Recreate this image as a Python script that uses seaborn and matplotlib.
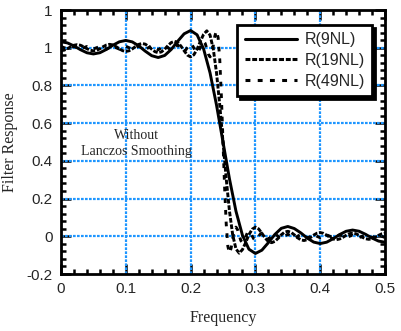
import numpy as np
import pandas as pd
import matplotlib
matplotlib.use("Agg")
import matplotlib.pyplot as plt
import seaborn as sns
from matplotlib.ticker import MultipleLocator, FixedLocator, FixedFormatter

# ---------------- data ----------------
freq9 = [0.00, 0.01, 0.02, 0.03, 0.04, 0.05, 0.06, 0.07, 0.08, 0.09,
         0.10, 0.11, 0.12, 0.13, 0.14, 0.15, 0.16, 0.17, 0.18, 0.19,
         0.20, 0.21, 0.22, 0.23, 0.24, 0.25, 0.26, 0.27, 0.28, 0.29,
         0.30, 0.31, 0.32, 0.33, 0.34, 0.35, 0.36, 0.37, 0.38, 0.39,
         0.40, 0.41, 0.42, 0.43, 0.44, 0.45, 0.46, 0.47, 0.48, 0.49, 0.50]
resp9 = [1.0315, 1.0254, 1.0094, 0.9895, 0.9732, 0.9669, 0.9734, 0.9908, 1.0129, 1.0313,
         1.0386, 1.0309, 1.0096, 0.9818, 0.9577, 0.9480, 0.9589, 0.9904, 1.0338, 1.0737,
         1.0912, 1.0685, 0.9943, 0.8668, 0.6957, 0.5000, 0.3043, 0.1332, 0.0057, -0.0685,
         -0.0912, -0.0737, -0.0338, 0.0096, 0.0423, 0.0520, 0.0411, 0.0182, -0.0096, -0.0309,
         -0.0386, -0.0313, -0.0129, 0.0092, 0.0266, 0.0331, 0.0268, 0.0105, -0.0094, -0.0254, -0.0315]

freq19 = [0.000, 0.005, 0.010, 0.015, 0.020, 0.025, 0.030, 0.035, 0.040, 0.045,
          0.050, 0.055, 0.060, 0.065, 0.070, 0.075, 0.080, 0.085, 0.090, 0.095,
          0.100, 0.105, 0.110, 0.115, 0.120, 0.125, 0.130, 0.135, 0.140, 0.145,
          0.150, 0.155, 0.160, 0.165, 0.170, 0.175, 0.180, 0.185, 0.190, 0.195,
          0.200, 0.205, 0.210, 0.215, 0.220, 0.225, 0.230, 0.235, 0.240, 0.245,
          0.250, 0.255, 0.260, 0.265, 0.270, 0.275, 0.280, 0.285, 0.290, 0.295,
          0.300, 0.305, 0.310, 0.315, 0.320, 0.325, 0.330, 0.335, 0.340, 0.345,
          0.350, 0.355, 0.360, 0.365, 0.370, 0.375, 0.380, 0.385, 0.390, 0.395,
          0.400, 0.405, 0.410, 0.415, 0.420, 0.425, 0.430, 0.435, 0.440, 0.445,
          0.450, 0.455, 0.460, 0.465, 0.470, 0.475, 0.480, 0.485, 0.490, 0.495, 0.500]
resp19 = [0.9841, 0.9871, 0.9951, 1.0049, 1.0130, 1.0161, 1.0131, 1.0050, 0.9949, 0.9866,
          0.9833, 0.9863, 0.9947, 1.0054, 1.0142, 1.0179, 1.0147, 1.0057, 0.9942, 0.9844,
          0.9803, 0.9837, 0.9936, 1.0066, 1.0177, 1.0225, 1.0188, 1.0074, 0.9923, 0.9790,
          0.9735, 0.9780, 0.9920, 1.0110, 1.0270, 1.0340, 1.0280, 1.0090, 0.9840, 0.9610,
          0.9514, 0.9625, 0.9918, 1.0332, 1.0707, 1.0895, 1.0669, 0.9935, 0.8667, 0.6956,
          0.5000, 0.3044, 0.1333, 0.0065, -0.0669, -0.0895, -0.0707, -0.0332, 0.0082, 0.0375,
          0.0486, 0.0390, 0.0160, -0.0090, -0.0280, -0.0340, -0.0270, -0.0110, 0.0080, 0.0220,
          0.0265, 0.0210, 0.0077, -0.0074, -0.0188, -0.0225, -0.0177, -0.0066, 0.0064, 0.0163,
          0.0197, 0.0156, 0.0058, -0.0057, -0.0142, -0.0179, -0.0142, -0.0054, 0.0053, 0.0137,
          0.0167, 0.0134, 0.0050, -0.0050, -0.0131, -0.0161, -0.0130, -0.0049, 0.0049, 0.0129, 0.0159]

freq49 = [0.000, 0.005, 0.010, 0.015, 0.020, 0.025, 0.030, 0.035, 0.040, 0.045,
          0.050, 0.055, 0.060, 0.065, 0.070, 0.075, 0.080, 0.085, 0.090, 0.095,
          0.100, 0.105, 0.110, 0.115, 0.120, 0.125, 0.130, 0.135, 0.140, 0.145,
          0.150, 0.155, 0.160, 0.165, 0.170, 0.175, 0.180, 0.185, 0.190,
          0.1925, 0.1950, 0.1975, 0.2000, 0.2025, 0.2050, 0.2075, 0.2100, 0.2125, 0.2150,
          0.2175, 0.2200, 0.2225, 0.2250, 0.2275, 0.2300, 0.2325, 0.2350, 0.2375, 0.2400,
          0.2425, 0.2450, 0.2475, 0.2500, 0.2525, 0.2550, 0.2575, 0.2600, 0.2625, 0.2650,
          0.2675, 0.2700, 0.2725, 0.2750, 0.2775, 0.2800, 0.2825, 0.2850, 0.2875, 0.2900,
          0.2925, 0.2950, 0.2975, 0.3000, 0.3025, 0.3050, 0.3075, 0.3100,
          0.315, 0.320, 0.325, 0.330, 0.335, 0.340, 0.345, 0.350, 0.355, 0.360,
          0.365, 0.370, 0.375, 0.380, 0.385, 0.390, 0.395, 0.400, 0.405, 0.410,
          0.415, 0.420, 0.425, 0.430, 0.435, 0.440, 0.445, 0.450, 0.455, 0.460,
          0.465, 0.470, 0.475, 0.480, 0.485, 0.490, 0.495, 0.500]
resp49 = [1.0064, 1.0000, 0.9936, 1.0000, 1.0064, 1.0000, 0.9935, 1.0000, 1.0066, 1.0000,
          0.9933, 1.0000, 1.0068, 1.0000, 0.9930, 1.0000, 1.0073, 1.0000, 0.9925, 1.0000,
          1.0079, 1.0000, 0.9917, 1.0000, 1.0087, 1.0000, 0.9907, 1.0000, 1.0100, 1.0000,
          0.9892, 1.0000, 1.0119, 1.0000, 0.9868, 1.0000, 1.0150, 1.0000, 0.9827,
          0.9882, 1.0011, 1.0145, 1.0201, 1.0141, 0.9984, 0.9819, 0.9750, 0.9825, 1.0024,
          1.0237, 1.0331, 1.0227, 0.9948, 0.9654, 0.9514, 0.9675, 1.0119, 1.0634, 1.0895,
          1.0529, 0.9363, 0.7415, 0.5000, 0.2585, 0.0637, -0.0529, -0.0895, -0.0634, -0.0119,
          0.0325, 0.0486, 0.0346, 0.0052, -0.0227, -0.0331, -0.0237, -0.0024, 0.0175, 0.0250,
          0.0181, 0.0016, -0.0141, -0.0201, -0.0145, -0.0011, 0.0118, 0.0173,
          0.0000, -0.0150, 0.0000, 0.0132, 0.0000, -0.0119, 0.0000, 0.0108, 0.0000, -0.0100,
          0.0000, 0.0093, 0.0000, -0.0087, 0.0000, 0.0083, 0.0000, -0.0079, 0.0000, 0.0075,
          0.0000, -0.0073, 0.0000, 0.0070, 0.0000, -0.0068, 0.0000, 0.0067, 0.0000, -0.0066,
          0.0000, 0.0065, 0.0000, -0.0064, 0.0000, 0.0064, 0.0000, -0.0064]

series_labels = ["R(9NL)", "R(19NL)", "R(49NL)"]
x_ticks = [0, 0.1, 0.2, 0.3, 0.4, 0.5]
x_ticklabels = ["0", "0.1", "0.2", "0.3", "0.4", "0.5"]
y_ticks = [-0.2, 0, 0.2, 0.4, 0.6, 0.8, 1.0, 1.2]
y_ticklabels = ["-0.2", "0", "0.2", "0.4", "0.6", "0.8", "1", "1"]
annotation = "Without\nLanczos Smoothing"
x_label = "Frequency"
y_label = "Filter Response"

# ---------------- styling ----------------
sns.set_theme(style="white")
plt.rcParams["font.family"] = ["Liberation Sans", "DejaVu Sans"]

fig = plt.figure(figsize=(4.01, 3.31), dpi=100)
ax = fig.add_axes([61 / 401, 1 - 274 / 331, (385 - 61) / 401, (274 - 10) / 331])

grid_color = "#1E96FF"
for xv in [0.1, 0.2, 0.3, 0.4]:
    ax.axvline(xv, color=grid_color, lw=1.6, ls=(0, (1.2, 0.6)), zorder=1)
for yv in [0, 0.2, 0.4, 0.6, 0.8, 1.0]:
    ax.axhline(yv, color=grid_color, lw=1.6, ls=(0, (1.2, 0.6)), zorder=1)

styles = ["-", (0, (1.6, 0.6)), (0, (1.6, 2.4))]
lw = 2.1
sns.lineplot(x=freq9, y=resp9, ax=ax, color="black", lw=lw, label=series_labels[0], zorder=3)
sns.lineplot(x=freq19, y=resp19, ax=ax, color="black", lw=lw, label=series_labels[1], zorder=3)
sns.lineplot(x=freq49, y=resp49, ax=ax, color="black", lw=lw, label=series_labels[2], zorder=3)
for ln, st in zip(ax.get_lines()[-3:], styles):
    ln.set_linestyle(st)

ax.set_xlim(0, 0.5)
ax.set_ylim(-0.2, 1.2)
ax.xaxis.set_major_locator(FixedLocator(x_ticks))
ax.xaxis.set_major_formatter(FixedFormatter(x_ticklabels))
ax.yaxis.set_major_locator(FixedLocator(y_ticks))
ax.yaxis.set_major_formatter(FixedFormatter(y_ticklabels))
ax.xaxis.set_minor_locator(MultipleLocator(0.02))
ax.yaxis.set_minor_locator(MultipleLocator(0.04))
ax.tick_params(which="both", direction="in", top=True, right=True,
               bottom=True, left=True, color="black", width=1.8)
ax.tick_params(which="major", length=7, labelsize=11, pad=6)
ax.tick_params(which="minor", length=3.5)
for s in ax.spines.values():
    s.set_linewidth(2.0)
    s.set_color("black")

ax.set_xlabel(x_label, family="Liberation Serif", fontsize=11.5, labelpad=10)
ax.set_ylabel(y_label, family="Liberation Serif", fontsize=11.5, labelpad=6)

ax.text(0.1165, 0.493, annotation, ha="center", va="center", family="Liberation Serif",
        fontsize=10, linespacing=1.3, zorder=4)

leg = ax.legend(loc="upper right", bbox_to_anchor=(372 / 401, 1 - 25 / 331),
                bbox_transform=fig.transFigure, borderaxespad=0, frameon=True,
                fancybox=False, framealpha=1, edgecolor="black", fontsize=11.5,
                handlelength=3.3, handletextpad=0.45, borderpad=0.45, labelspacing=0.36,
                shadow={"color": "black", "alpha": 1})
leg.get_frame().set_linewidth(2.0)
for h, st in zip(leg.get_lines(), styles):
    h.set_linestyle(st)
    h.set_linewidth(2.2)

fig.savefig("out.png", dpi=100)
